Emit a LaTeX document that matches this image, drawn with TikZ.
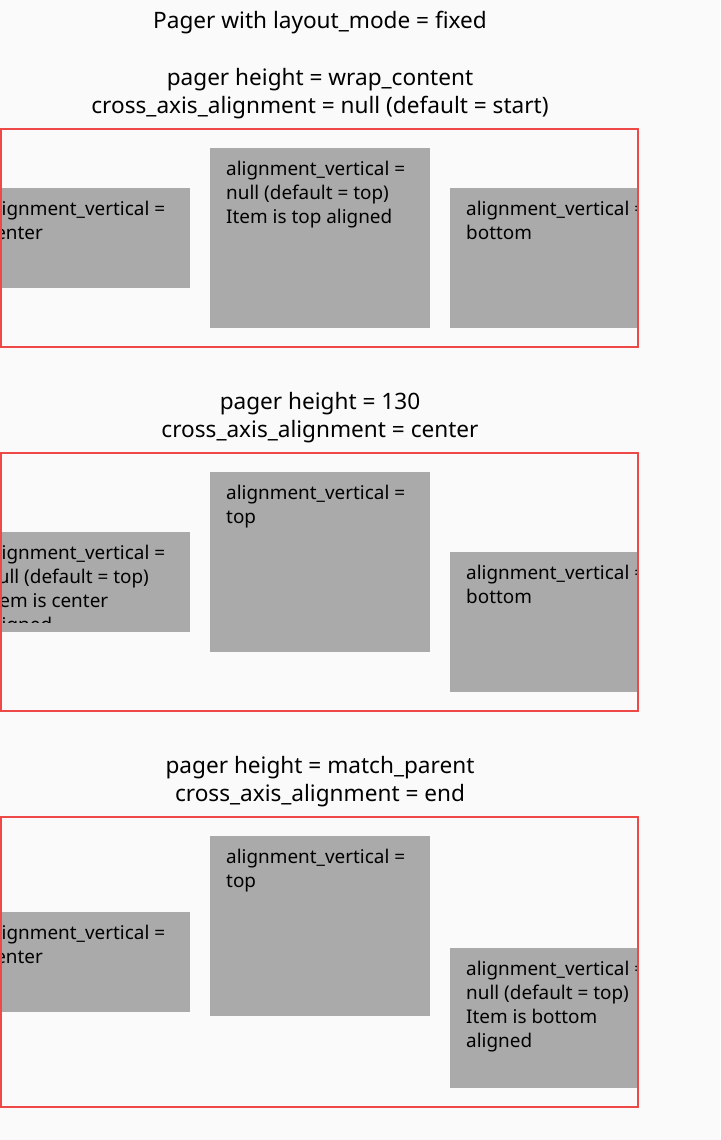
\documentclass[tikz,border=0pt]{standalone}
\usepackage{fontspec}
\setmainfont{Noto Sans}
\definecolor{pagebg}{HTML}{FAFAFA}
\definecolor{pagerred}{HTML}{EF4848}
\definecolor{itemgray}{HTML}{AAAAAA}
% multi-line item label whose reference point is the first baseline
\newcommand{\itemlines}[1]{\vtop{\baselineskip=24pt\lineskiplimit=-20pt\def\nl{\par}\halign{##\hfil\cr#1\crcr}}}
\tikzset{
  headline/.style={anchor=base, inner sep=0pt, font=\fontsize{22.6}{28}\selectfont},
  itembox/.style={fill=itemgray, draw=none},
  itemtext/.style={anchor=base west, inner sep=0pt,
                   font=\fontsize{18.9}{24}\selectfont},
  pagerframe/.style={draw=pagerred, line width=2pt},
}
\begin{document}
\begin{tikzpicture}[x=1pt,y=-1pt]
  \fill[pagebg] (0,0) rectangle (720,1140);
  \useasboundingbox (0,0) rectangle (720,1140);

  \node[headline] (title) at (320,29) {Pager with layout\_mode = fixed};

  % ---- pager 1: wrap_content, start ----
  \node[headline] (h1a) at (320,85) {pager height = wrap\_content};
  \node[headline] (h1b) at (320,113) {cross\_axis\_alignment = null (default = start)};
  \begin{scope}
    \clip (1,129) rectangle (638,347);
    \fill[itembox] (-30,188) rectangle (190,288);
    \fill[itembox] (210,148) rectangle (430,328);
    \fill[itembox] (450,188) rectangle (670,328);
    \node[itemtext] (p1l) at (-14,215) {\itemlines{alignment\_vertical =\cr center}};
    \node[itemtext] (p1m) at (226,175) {\itemlines{alignment\_vertical =\cr null (default = top)\cr Item is top aligned}};
    \node[itemtext] (p1r) at (466,215) {\itemlines{alignment\_vertical =\cr bottom}};
  \end{scope}
  \draw[pagerframe] (1,129) rectangle (638,347);

  % ---- pager 2: 130, center ----
  \node[headline] (h2a) at (320,409) {pager height = 130};
  \node[headline] (h2b) at (320,437) {cross\_axis\_alignment = center};
  \begin{scope}
    \clip (1,453) rectangle (638,711);
    \fill[itembox] (-30,532) rectangle (190,632);
    \fill[itembox] (210,472) rectangle (430,652);
    \fill[itembox] (450,552) rectangle (670,692);
    \begin{scope}
      \clip (-30,532) rectangle (190,622);
      \node[itemtext] (p2l) at (-14,559) {\itemlines{alignment\_vertical =\cr null (default = top)\cr Item is center\cr aligned}};
    \end{scope}
    \node[itemtext] (p2m) at (226,499) {\itemlines{alignment\_vertical =\cr top}};
    \node[itemtext] (p2r) at (466,579) {\itemlines{alignment\_vertical =\cr bottom}};
  \end{scope}
  \draw[pagerframe] (1,453) rectangle (638,711);

  % ---- pager 3: match_parent, end ----
  \node[headline] (h3a) at (320,773) {pager height = match\_parent};
  \node[headline] (h3b) at (320,801) {cross\_axis\_alignment = end};
  \begin{scope}
    \clip (1,817) rectangle (638,1107);
    \fill[itembox] (-30,912) rectangle (190,1012);
    \fill[itembox] (210,836) rectangle (430,1016);
    \fill[itembox] (450,948) rectangle (670,1088);
    \node[itemtext] (p3l) at (-14,939) {\itemlines{alignment\_vertical =\cr center}};
    \node[itemtext] (p3m) at (226,863) {\itemlines{alignment\_vertical =\cr top}};
    \node[itemtext] (p3r) at (466,975) {\itemlines{alignment\_vertical =\cr null (default = top)\cr Item is bottom\cr aligned}};
  \end{scope}
  \draw[pagerframe] (1,817) rectangle (638,1107);
\end{tikzpicture}
\end{document}
